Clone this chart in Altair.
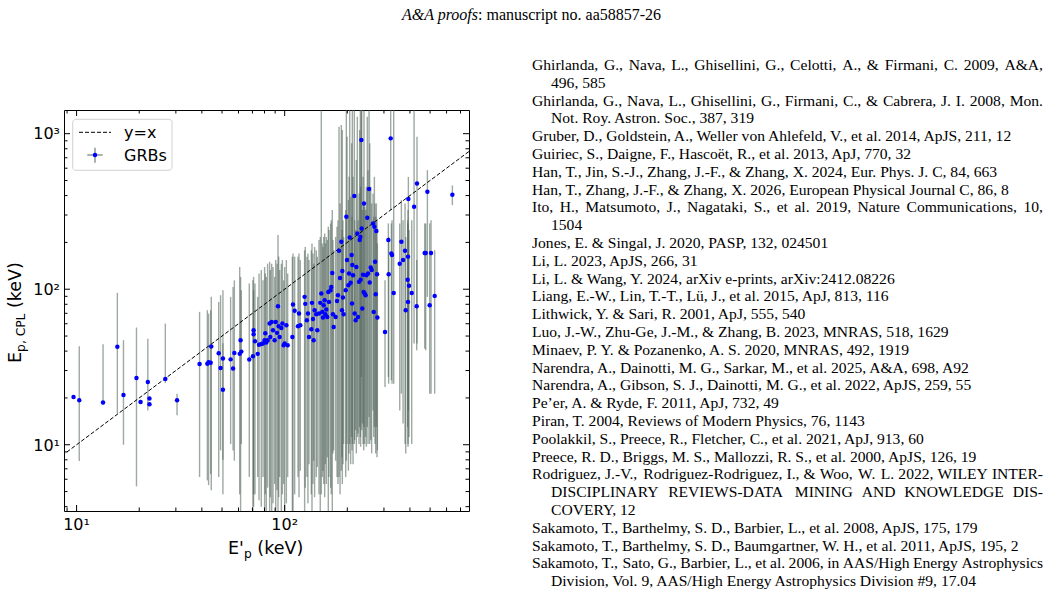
import altair as alt
import pandas as pd

# ---------------------------------------------------------------------------
# GRB sample: rest-frame peak energy E'p versus CPL peak energy Ep,CPL (keV)
# with the lower / upper ends of the Ep,CPL error bars.
# ---------------------------------------------------------------------------
e_prime = [9.67, 10.3, 13.4, 15.7, 16.8, 19.4, 20.3, 22.0, 22.4, 22.4, 26.7, 30.4,
           39.0, 42.5, 43.1, 44.1, 44.4, 48.2, 49.2, 50.5, 50.5, 55.0, 56.5, 57.3,
           60.8, 61.4, 61.9, 67.6, 70.4, 70.9, 70.9, 72.0, 74.2, 75.3, 77.2, 78.7,
           80.1, 80.7, 81.6, 82.8, 84.7, 85.3, 86.6, 87.9, 89.5, 90.6, 91.9, 92.9,
           93.6, 94.6, 96.4, 97.5, 98.9, 100.0, 101.9, 103.4, 108.9, 109.7, 111.7,
           115.9, 117.2, 118.9, 124.7, 125.6, 127.9, 129.4, 130.9, 134.3, 135.3,
           136.8, 137.8, 139.3, 141.9, 143.5, 146.2, 148.3, 150.0, 151.7, 152.8,
           154.0, 155.7, 156.9, 158.5, 160.3, 162.1, 163.3, 166.3, 167.5, 169.4,
           170.6, 172.0, 175.8, 178.5, 180.4, 182.5, 184.6, 187.2, 188.6, 189.3,
           190.6, 192.1, 196.5, 197.9, 199.4, 202.4, 203.9, 205.4, 207.6, 209.9,
           210.7, 211.5, 213.1, 216.2, 217.0, 219.3, 221.1, 223.5, 225.2, 227.7,
           229.4, 231.1, 231.8, 233.7, 234.5, 236.2, 238.1, 239.8, 240.6, 242.4,
           244.9, 247.0, 249.6, 251.6, 254.4, 256.3, 259.2, 261.9, 265.9, 267.9,
           269.9, 271.9, 273.9, 275.9, 277.9, 279.0, 303.6, 315.0, 316.2, 323.3,
           325.7, 328.1, 334.2, 357.3, 363.9, 370.7, 378.9, 381.8, 390.1, 391.6,
           391.6, 393.1, 396.0, 408.0, 418.8, 431.1, 432.6, 470.9, 476.3, 485.2,
           497.7, 505.2, 526.0, 639.7]

e_cpl = [20.3, 19.3, 18.7, 42.6, 20.9, 26.9, 18.8, 25.3, 19.8, 18.2, 26.5, 19.3,
         33.0, 33.2, 33.9, 33.7, 42.8, 38.7, 31.1, 35.8, 22.6, 35.4, 30.9, 38.9,
         38.4, 47.0, 39.7, 35.3, 37.1, 54.5, 51.3, 46.3, 38.4, 44.0, 44.5, 44.7,
         47.0, 52.1, 45.4, 47.0, 60.1, 49.3, 61.6, 54.5, 47.0, 61.6, 52.4, 77.7,
         57.8, 49.3, 56.4, 60.1, 43.6, 44.7, 58.7, 43.6, 49.3, 79.7, 72.6,
         57.8, 69.7, 58.7, 89.3, 80.5, 63.2, 69.7, 49.3, 55.3, 81.7,
         64.4, 47.0, 73.3, 69.0, 54.5, 69.7, 81.7, 93.8, 71.5, 65.7,
         78.9, 85.0, 69.0, 74.0, 66.3, 96.1, 82.9, 98.5, 103.5, 127,
         69.0, 57.2, 66.3, 84.1, 91.5, 177, 118, 202, 73.3, 131,
         88.4, 69.0, 98.5, 292, 154, 106.1, 126, 215, 109.9, 166,
         80.9, 143, 123, 397, 69.7, 63.2, 139, 228, 66.3, 111.5,
         207, 217, 115, 910, 246, 75.1, 124, 96.1, 356, 93.8,
         91.5, 123, 288, 126, 441, 110.4, 138, 133, 265, 71.5,
         252, 150, 92.9, 237, 125, 65.7, 53.1, 207, 125, 933,
         170, 166, 94.7, 146, 202, 154, 177, 73.3, 115, 82.9,
         162, 380, 105.1, 94.7, 339, 77.7, 479, 171, 171, 424,
         78.9, 171, 90.6, 405]

e_cpl_lo = [20.3, 7.85, 18.1, 15.9, 10.0, 5.4, 18.8, 16.6, 19.8, 18.2, 25.0, 15.5,
            6.2, 5.9, 5.5, 6.5, 5.1, 6.2, 9.2, 4.8, 8.0, 10.1, 9.2, 7.9,
            4.8, 1, 10.1, 6.2, 1, 4.0, 4.8, 4.8, 6.2, 4.4, 4.0, 6.2,
            1, 4.8, 1, 5.3, 1, 4.6, 1, 4.2, 5.6, 1, 5.1, 1,
            4.6, 6.2, 1, 4.8, 5.6, 1, 4.2, 6.2, 1, 1, 4.8,
            6.2, 4.6, 6.8, 1, 5.3, 6.2, 4.2, 7.5, 4.8, 1,
            5.6, 7.9, 4.6, 6.2, 7.2, 4.8, 1, 4.8, 6.2, 6.8,
            5.6, 4.6, 7.5, 5.6, 8.3, 1, 6.2, 5.3, 4.8, 1,
            8.8, 9.2, 7.9, 6.2, 5.6, 6.2, 4.8, 6.8, 8.3, 5.6,
            7.5, 10.1, 6.2, 7.9, 10.1, 6.8, 8.8, 10.1, 7.5, 11.2,
            9.2, 10.1, 7.5, 10.1, 10.7, 12.4, 8.8, 11.2, 11.8, 10.1,
            13.0, 11.2, 9.7, 27.3, 12.4, 13.7, 10.1, 9.2, 13.0, 10.1,
            11.2, 9.7, 13.0, 10.1, 15.1, 10.1, 10.7, 8.8, 16.6, 11.2,
            13.0, 10.1, 8.8, 13.0, 8.3, 9.2, 23.5, 27.3, 24.7, 323,
            26.0, 24.7, 24.7, 16.6, 21.3, 13.7, 10.1, 8.8, 13.0, 9.7,
            10.1, 16.6, 11.2, 10.1, 44.7, 40.5, 44.7, 41.5, 40.5, 89.3,
            21.3, 21.3, 21.3, 347]

e_cpl_hi = [20.3, 43.0, 44.2, 94.7, 47.0, 56.7, 18.8, 48.1, 19.8, 18.2, 60.1, 21.3,
            71.5, 73.3, 69.7, 73.3, 89.3, 82.9, 91.5, 98.5, 45.0, 89.3, 103.5, 114,
            139, 120, 98.5, 108.8, 114, 120, 98.5, 108.8, 89.3, 126, 133, 114,
            139, 126, 120, 146, 150, 133, 146, 139, 120, 154, 146, 223,
            162, 133, 146, 154, 114, 139, 154, 126, 162, 170, 162,
            162, 170, 154, 178, 187, 162, 170, 154, 178, 197,
            170, 146, 187, 178, 162, 207, 217, 2000, 197, 187,
            217, 228, 197, 217, 207, 252, 240, 265, 278, 323,
            207, 178, 217, 252, 278, 1109, 356, 1138, 240, 1056,
            278, 217, 323, 2000, 957, 374, 528, 2000, 393, 867,
            292, 2000, 528, 2000, 278, 240, 677, 1287, 278, 413,
            1056, 2000, 456, 2000, 2000, 323, 528, 356, 2000, 339,
            323, 456, 1287, 583, 2000, 867, 456, 356, 413, 292,
            528, 356, 292, 356, 278, 197, 114, 265, 217, 2000,
            265, 278, 2000, 265, 374, 278, 356, 217, 278, 265,
            323, 528, 240, 278, 2000, 154, 957, 265, 265, 583,
            265, 278, 178, 465]

identity_line = [5, 2000]

# log-axis ticks and their labels
x_major = [10, 100]
x_major_labels = ["10\u00b9", "10\u00b2"]
x_minor = [9, 20, 30, 40, 50, 60, 70, 80, 90, 200, 300, 400, 500, 600, 700]
y_major = [10, 100, 1000]
y_major_labels = ["10\u00b9", "10\u00b2", "10\u00b3"]
y_minor = [4, 5, 6, 7, 8, 9, 20, 30, 40, 50, 60, 70, 80, 90,
           200, 300, 400, 500, 600, 700, 800, 900]

header_italic = "A&A proofs"
header_roman = ": manuscript no. aa58857-26"

# reference list: (text, continuation line, justified line)
references = [
    ("Ghirlanda, G., Nava, L., Ghisellini, G., Celotti, A., & Firmani, C. 2009, A&A,", False, True),
    ("496, 585", True, False),
    ("Ghirlanda, G., Nava, L., Ghisellini, G., Firmani, C., & Cabrera, J. I. 2008, Mon.", False, True),
    ("Not. Roy. Astron. Soc., 387, 319", True, False),
    ("Gruber, D., Goldstein, A., Weller von Ahlefeld, V., et al. 2014, ApJS, 211, 12", False, False),
    ("Guiriec, S., Daigne, F., Hascoët, R., et al. 2013, ApJ, 770, 32", False, False),
    ("Han, T., Jin, S.-J., Zhang, J.-F., & Zhang, X. 2024, Eur. Phys. J. C, 84, 663", False, False),
    ("Han, T., Zhang, J.-F., & Zhang, X. 2026, European Physical Journal C, 86, 8", False, False),
    ("Ito, H., Matsumoto, J., Nagataki, S., et al. 2019, Nature Communications, 10,", False, True),
    ("1504", True, False),
    ("Jones, E. & Singal, J. 2020, PASP, 132, 024501", False, False),
    ("Li, L. 2023, ApJS, 266, 31", False, False),
    ("Li, L. & Wang, Y. 2024, arXiv e-prints, arXiv:2412.08226", False, False),
    ("Liang, E.-W., Lin, T.-T., Lü, J., et al. 2015, ApJ, 813, 116", False, False),
    ("Lithwick, Y. & Sari, R. 2001, ApJ, 555, 540", False, False),
    ("Luo, J.-W., Zhu-Ge, J.-M., & Zhang, B. 2023, MNRAS, 518, 1629", False, False),
    ("Minaev, P. Y. & Pozanenko, A. S. 2020, MNRAS, 492, 1919", False, False),
    ("Narendra, A., Dainotti, M. G., Sarkar, M., et al. 2025, A&A, 698, A92", False, False),
    ("Narendra, A., Gibson, S. J., Dainotti, M. G., et al. 2022, ApJS, 259, 55", False, False),
    ("Pe\u2019er, A. & Ryde, F. 2011, ApJ, 732, 49", False, False),
    ("Piran, T. 2004, Reviews of Modern Physics, 76, 1143", False, False),
    ("Poolakkil, S., Preece, R., Fletcher, C., et al. 2021, ApJ, 913, 60", False, False),
    ("Preece, R. D., Briggs, M. S., Mallozzi, R. S., et al. 2000, ApJS, 126, 19", False, False),
    ("Rodriguez, J.-V., Rodriguez-Rodriguez, I., & Woo, W. L. 2022, WILEY INTER-", False, True),
    ("DISCIPLINARY REVIEWS-DATA MINING AND KNOWLEDGE DIS-", True, True),
    ("COVERY, 12", True, False),
    ("Sakamoto, T., Barthelmy, S. D., Barbier, L., et al. 2008, ApJS, 175, 179", False, False),
    ("Sakamoto, T., Barthelmy, S. D., Baumgartner, W. H., et al. 2011, ApJS, 195, 2", False, False),
    ("Sakamoto, T., Sato, G., Barbier, L., et al. 2006, in AAS/High Energy Astrophysics", False, True),
    ("Division, Vol. 9, AAS/High Energy Astrophysics Division #9, 17.04", True, False),
]

# ---------------------------------------------------------------------------
# page geometry
# ---------------------------------------------------------------------------
PAGE_W, PAGE_H = 1049, 591
OX, OY = 64, 110          # top-left corner of the plot frame on the page
W, H = 405, 401           # plot frame size
MAJOR, MINOR = 6, 3.5     # inward tick lengths

X_SCALE = alt.Scale(type="log", domain=[8.7, 769], nice=False)
Y_SCALE = alt.Scale(type="log", domain=[3.75, 1420], nice=False)

SANS = "DejaVu Sans"
SERIF = "Liberation Serif"
BAR_COLOR = "#4f6358"

one = pd.DataFrame({"k": [0]})

# Times-Roman advance widths (1/1000 em) used to justify reference lines
TIMES = {" ": 250, ",": 250, ".": 250, "-": 333, ":": 278, "&": 778, "#": 500,
         "/": 278, "\u2019": 333}
TIMES.update({d: 500 for d in "0123456789"})
TIMES.update(dict(zip("ABCDEFGHIJKLMNOPQRSTUVWXYZ",
                      [722, 667, 667, 722, 611, 556, 722, 722, 333, 389, 722, 611, 889,
                       722, 722, 556, 722, 667, 556, 611, 722, 722, 944, 722, 722, 611])))
TIMES.update(dict(zip("abcdefghijklmnopqrstuvwxyz",
                      [444, 500, 444, 500, 444, 333, 500, 500, 278, 278, 500, 278, 778,
                       500, 500, 500, 500, 333, 389, 278, 500, 500, 722, 500, 500, 444])))
TIMES.update({"\u00eb": 444, "\u00fc": 500})


def times_width(s, size):
    return sum(TIMES.get(c, 500) for c in s) / 1000.0 * size


def text_at(text, x, y, size=15.6, font=SERIF, align="left",
            baseline="alphabetic", angle=0, style="normal"):
    """Text placed at page coordinates (x, y)."""
    return alt.Chart(one).mark_text(
        text=text, align=align, baseline=baseline, font=font, fontSize=size,
        angle=angle, fontStyle=style, color="black"
    ).encode(x=alt.value(x - OX), y=alt.value(y - OY))


def ticks(vals, side, length):
    base = alt.Chart(pd.DataFrame({"t": vals})).mark_rule(color="black", strokeWidth=1)
    if side == "bottom":
        return base.encode(x=alt.X("t:Q", scale=X_SCALE, axis=None),
                           y=alt.value(H), y2=alt.value(H - length))
    if side == "top":
        return base.encode(x=alt.X("t:Q", scale=X_SCALE, axis=None),
                           y=alt.value(0), y2=alt.value(length))
    if side == "left":
        return base.encode(y=alt.Y("t:Q", scale=Y_SCALE, axis=None),
                           x=alt.value(0), x2=alt.value(length))
    return base.encode(y=alt.Y("t:Q", scale=Y_SCALE, axis=None),
                       x=alt.value(W), x2=alt.value(W - length))


grb = pd.DataFrame({"ep": e_prime, "ecpl": e_cpl, "lo": e_cpl_lo, "hi": e_cpl_hi})

error_bars = alt.Chart(grb).mark_rule(
    color=BAR_COLOR, opacity=0.55, strokeWidth=1.4, clip=True
).encode(
    x=alt.X("ep:Q", scale=X_SCALE, axis=None),
    y=alt.Y("lo:Q", scale=Y_SCALE, axis=None),
    y2="hi:Q",
)

one_to_one = alt.Chart(pd.DataFrame({"v": identity_line})).mark_line(
    color="black", strokeWidth=1, strokeDash=[4, 2], clip=True
).encode(
    x=alt.X("v:Q", scale=X_SCALE, axis=None),
    y=alt.Y("v:Q", scale=Y_SCALE, axis=None),
)

points = alt.Chart(grb).mark_circle(color="#0000ff", size=20, opacity=1, clip=True).encode(
    x=alt.X("ep:Q", scale=X_SCALE, axis=None),
    y=alt.Y("ecpl:Q", scale=Y_SCALE, axis=None),
)

layers = [error_bars, one_to_one, points]

# inward ticks on all four sides
for side in ("bottom", "top"):
    layers.append(ticks(x_major, side, MAJOR))
    layers.append(ticks(x_minor, side, MINOR))
for side in ("left", "right"):
    layers.append(ticks(y_major, side, MAJOR))
    layers.append(ticks(y_minor, side, MINOR))

# decade tick labels, placed through the same log scales
layers.append(alt.Chart(pd.DataFrame({"t": x_major, "lab": x_major_labels})).mark_text(
    font=SANS, fontSize=16, color="black", align="center", baseline="alphabetic"
).encode(x=alt.X("t:Q", scale=X_SCALE, axis=None), y=alt.value(H + 19), text="lab:N"))
layers.append(alt.Chart(pd.DataFrame({"t": y_major, "lab": y_major_labels})).mark_text(
    font=SANS, fontSize=16, color="black", align="right", baseline="alphabetic", dy=5.8
).encode(y=alt.Y("t:Q", scale=Y_SCALE, axis=None), x=alt.value(-4), text="lab:N"))

# legend
layers.append(alt.Chart(one).mark_rect(
    fill="white", stroke="#cccccc", strokeWidth=1, cornerRadius=3, opacity=0.9
).encode(x=alt.value(72.7 - OX), x2=alt.value(172 - OX),
         y=alt.value(119.3 - OY), y2=alt.value(170.3 - OY)))
layers.append(alt.Chart(one).mark_rule(color="black", strokeWidth=1, strokeDash=[4, 2]).encode(
    x=alt.value(79 - OX), x2=alt.value(111 - OX), y=alt.value(132.3 - OY)))
layers.append(alt.Chart(one).mark_rule(color=BAR_COLOR, opacity=0.7, strokeWidth=1.4).encode(
    x=alt.value(95 - OX), y=alt.value(147.7 - OY), y2=alt.value(162.7 - OY)))
layers.append(alt.Chart(one).mark_rule(color=BAR_COLOR, opacity=0.7, strokeWidth=1.4).encode(
    x=alt.value(87.3 - OX), x2=alt.value(102.7 - OX), y=alt.value(155 - OY)))
layers.append(alt.Chart(one).mark_circle(color="#0000ff", size=20, opacity=1).encode(
    x=alt.value(95 - OX), y=alt.value(155 - OY)))
layers.append(text_at("y=x", 124, 132.5, size=16, font=SANS, baseline="middle"))
layers.append(text_at("GRBs", 124, 155.5, size=16, font=SANS, baseline="middle"))

# axis titles (main text plus subscript)
TS, SS = 17.5, 12.25
layers.append(text_at("E'", 228, 554, size=TS, font=SANS))
layers.append(text_at("p", 243.9, 558, size=SS, font=SANS))
layers.append(text_at("(keV)", 257.3, 554, size=TS, font=SANS))
layers.append(text_at("E", 20.5, 363, size=TS, font=SANS, angle=270))
layers.append(text_at("p, CPL", 24.5, 351.9, size=SS, font=SANS, angle=270))
layers.append(text_at("(keV)", 20.5, 308, size=TS, font=SANS, angle=270))

# running header
layers.append(text_at(header_italic, 478, 19.5, size=16, align="right", style="italic"))
layers.append(text_at(header_roman, 478, 19.5, size=16))

# reference list
REF_SIZE = 15.6
LEFT, INDENT, RIGHT = 532, 551, 1043
for i, (line, cont, justify) in enumerate(references):
    base = 70 + 17.8 * i
    x0 = INDENT if cont else LEFT
    if justify:
        words = line.split(" ")
        widths = [times_width(w, REF_SIZE) for w in words]
        gap = (RIGHT - x0 - sum(widths)) / (len(words) - 1)
        x = x0
        for w, wd in zip(words, widths):
            layers.append(text_at(w, x, base, size=REF_SIZE))
            x += wd + gap
    else:
        layers.append(text_at(line, x0, base, size=REF_SIZE))

chart = alt.layer(*layers).properties(
    width=W,
    height=H,
    autosize=alt.AutoSizeParams(type="none"),
    padding={"left": OX, "top": OY, "right": PAGE_W - OX - W, "bottom": PAGE_H - OY - H},
    background="white",
).configure_view(stroke="black", strokeWidth=1)

chart.save("out.html", embed_options={"renderer": "svg", "actions": False})
